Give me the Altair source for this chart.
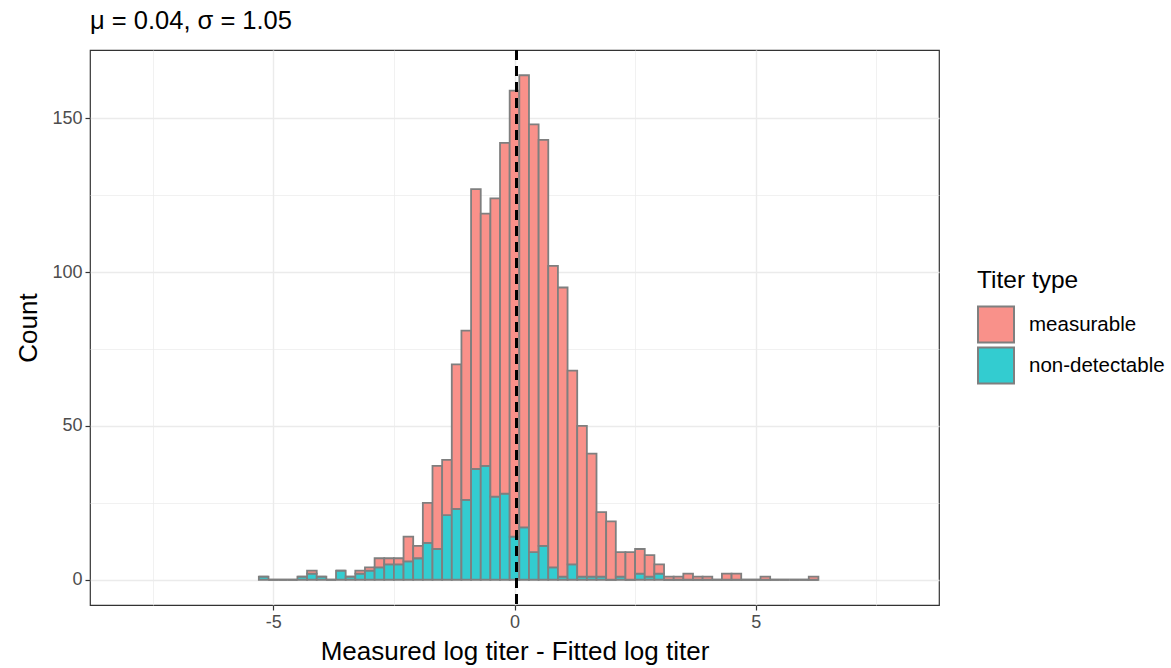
import altair as alt
import pandas as pd

# ---- data (bin width 0.2, centres below) ----
bin_centers = [-5.2, -5.0, -4.8, -4.6, -4.4, -4.2, -4.0, -3.8, -3.6, -3.4,
               -3.2, -3.0, -2.8, -2.6, -2.4, -2.2, -2.0, -1.8, -1.6, -1.4,
               -1.2, -1.0, -0.8, -0.6, -0.4, -0.2, 0.0, 0.2, 0.4, 0.6,
               0.8, 1.0, 1.2, 1.4, 1.6, 1.8, 2.0, 2.2, 2.4, 2.6,
               2.8, 3.0, 3.2, 3.4, 3.6, 3.8, 4.0, 4.2, 4.4, 4.6,
               4.8, 5.0, 5.2, 5.4, 5.6, 5.8, 6.0, 6.2]
measurable = [0, 0, 0, 0, 0, 1, 0, 0, 0, 0,
              1, 1, 3, 2, 2, 8, 4, 13, 27, 18,
              47, 55, 91, 82, 97, 114, 145, 147, 139, 132,
              98, 94, 63, 49, 40, 21, 19, 8, 9, 8,
              7, 3, 1, 1, 2, 1, 1, 0, 2, 2,
              0, 0, 1, 0, 0, 0, 0, 1]
non_detectable = [1, 0, 0, 0, 1, 2, 1, 0, 3, 1,
                  2, 3, 4, 5, 5, 6, 7, 12, 10, 21,
                  23, 26, 36, 37, 27, 28, 14, 17, 9, 11,
                  4, 1, 5, 1, 1, 1, 0, 1, 0, 2,
                  1, 2, 0, 0, 0, 0, 0, 0, 0, 0,
                  0, 0, 0, 0, 0, 0, 0, 0]
half_width = 0.1
mu = 0.04
sigma = 1.05
types = ["measurable", "non-detectable"]
type_colors = ["#F9918A", "#33CCD0"]

# stacked table: non-detectable at the bottom, measurable on top
rows = []
for c, m, n in zip(bin_centers, measurable, non_detectable):
    rows.append({"x0": c - half_width, "x1": c + half_width, "y0": 0, "y1": n,
                 "type": "non-detectable"})
    rows.append({"x0": c - half_width, "x1": c + half_width, "y0": n, "y1": n + m,
                 "type": "measurable"})
df = pd.DataFrame(rows)

x_scale = alt.Scale(domain=[-8.8, 8.8], nice=False, zero=False)
y_scale = alt.Scale(domain=[-8.2, 172.2], nice=False, zero=False)

x_axis = alt.Axis(
    values=[-7.5, -5, -2.5, 0, 2.5, 5, 7.5],
    labelExpr="datum.value % 5 === 0 ? replace(datum.label, '\u2212', '-') : ''",
    gridWidth={"condition": {"test": "datum.value % 5 === 0", "value": 1.4}, "value": 0.7},
    tickOpacity={"condition": {"test": "datum.value % 5 === 0", "value": 1}, "value": 0},
    titlePadding=7,
)
y_axis = alt.Axis(
    values=[0, 25, 50, 75, 100, 125, 150],
    labelExpr="datum.value % 50 === 0 ? datum.label : ''",
    gridWidth={"condition": {"test": "datum.value % 50 === 0", "value": 1.4}, "value": 0.7},
    tickOpacity={"condition": {"test": "datum.value % 50 === 0", "value": 1}, "value": 0},
    titlePadding=10,
)

bars = alt.Chart(df).mark_bar(stroke="#7F7F7F", strokeWidth=1.8).encode(
    x=alt.X("x0:Q", scale=x_scale, axis=x_axis, title="Measured log titer - Fitted log titer"),
    x2="x1:Q",
    y=alt.Y("y0:Q", scale=y_scale, axis=y_axis, title="Count"),
    y2="y1:Q",
    color=alt.Color(
        "type:N",
        scale=alt.Scale(domain=types, range=type_colors),
        legend=alt.Legend(
            title="Titer type", orient="none", legendX=887, legendY=219,
            symbolType="square", symbolSize=1296, symbolStrokeColor="#7F7F7F",
            symbolStrokeWidth=2, symbolOpacity=1,
            labelFontSize=20.5, titleFontSize=24.5, titleFontWeight="normal",
            labelOffset=14, rowPadding=-3, titlePadding=12, labelColor="black",
            titleColor="black",
        ),
    ),
)

mean_rule = alt.Chart(df).mark_rule(color="black", strokeWidth=2.5, strokeDash=[10, 6]).encode(
    x=alt.datum(mu)
)

chart = alt.layer(bars, mean_rule).properties(
    width=849,
    height=555,
    title=alt.Title(f"\u03bc = {mu:.2f}, \u03c3 = {sigma:.2f}", anchor="start", fontSize=25.5,
                    fontWeight="normal", offset=14, color="black", frame="group"),
    autosize=alt.AutoSizeParams(type="none"),
    padding={"left": 90, "top": 50, "right": 232, "bottom": 63},
).configure(
    font="Liberation Sans",
).configure_view(
    stroke="#333333", strokeWidth=1.2,
).configure_axis(
    domain=False, gridColor="#EBEBEB", labelColor="#4D4D4D", labelFontSize=18,
    titleFontSize=26, titleFontWeight="normal", titleColor="black",
    tickColor="#333333", tickSize=5, tickWidth=1.2, labelPadding=3,
)

chart.save("out.html", embed_options={"renderer": "svg", "actions": False})
